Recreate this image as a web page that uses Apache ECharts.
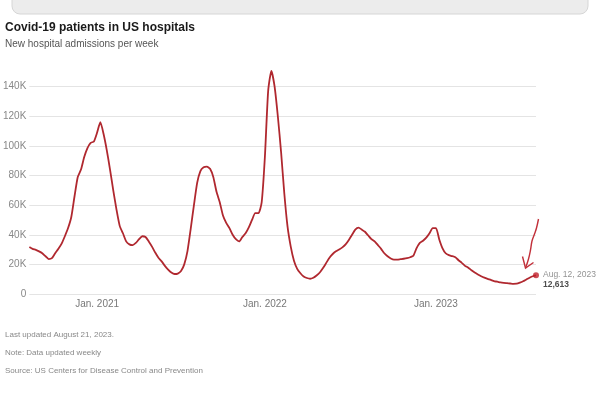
<!DOCTYPE html>
<html>
<head>
<meta charset="utf-8">
<script src="https://cdn.jsdelivr.net/npm/echarts@6/dist/echarts.min.js"></script>
<style>
html,body{margin:0;padding:0;background:#fff;}
#chart{width:598px;height:396px;}
</style>
</head>
<body>
<div id="chart"></div>
<script>
// Weekly series: first week ending Aug. 8, 2020, last week ending Aug. 12, 2023
const firstWeek = '2020-08-08';
const admissions = [
  31700,30500,29800,28800,27500,25500,23600,24200,27500,30500,
  34000,39000,44500,52000,66000,79000,84000,92500,98500,102000,
  103000,109000,116000,108000,97000,84000,70000,57000,46000,41000,
  35500,33500,33000,34500,37000,39000,38500,35500,32000,28000,
  24500,22000,19000,16500,14500,13500,13800,15500,20000,29000,
  44000,60000,75000,83000,85500,86000,84500,79000,69000,62000,
  53000,48000,44500,40000,37000,35500,38500,41000,45000,50000,
  54600,54600,62000,93000,137000,150600,140000,120000,96000,68000,
  45600,32000,22500,17000,14000,11800,10800,10300,11000,12500,
  14500,17500,21000,24500,27000,28800,30000,31500,33500,36500,
  40000,43500,44800,43500,42000,39500,37000,35500,33000,30500,
  27500,25500,24000,23200,23200,23500,23800,24200,24800,25800,
  31000,34500,36000,38000,41000,44500,44500,37000,31000,27500,
  26200,25600,24800,22800,21000,19000,17800,16000,14500,13200,
  12000,11000,10200,9500,8700,8300,7800,7500,7300,7100,
  6900,7000,7700,8600,9800,11000,12000,12613
];
const yTicks = [0,20000,40000,60000,80000,100000,120000,140000];
const titleText = 'Covid-19 patients in US hospitals';
const subtitleText = 'New hospital admissions per week';
const footerLines = ['Last updated August 21, 2023.', 'Note: Data updated weekly', 'Source: US Centers for Disease Control and Prevention'];

const monthsShort = ['Jan.','Feb.','Mar.','Apr.','May','June','July','Aug.','Sep.','Oct.','Nov.','Dec.'];
// week-ending dates (categories)
const weeks = [];
{
  const d0 = new Date(firstWeek + 'T12:00:00Z');
  for (let i = 0; i < admissions.length; i++) {
    const d = new Date(d0.getTime() + i * 7 * 86400000);
    weeks.push(d.toISOString().slice(0,10));
  }
}
function parse(s){ const p = s.split('-').map(Number); return {y:p[0], m:p[1], d:p[2]}; }
const lastIdx = admissions.length - 1;
const lastDate = parse(weeks[lastIdx]);

const FONT = '"Liberation Sans", Arial, sans-serif';
const RED = '#b0282f';
const chart = echarts.init(document.getElementById('chart'), null, {renderer:'canvas'});
const yMax = 160000;
const splitColors = yTicks.map(() => '#e4e4e4').concat(['rgba(0,0,0,0)']);

chart.setOption({
  animation: false,
  backgroundColor: '#ffffff',
  grid: {left: 28, right: 62, top: 57, bottom: 102, containLabel: false},
  xAxis: {
    type: 'category',
    data: weeks,
    boundaryGap: false,
    axisLine: {show: false},
    axisTick: {show: false},
    splitLine: {show: false},
    axisLabel: {
      interval: function (idx, val) { const p = parse(val); return p.m === 1 && p.d <= 7; },
      formatter: function (val) { const p = parse(val); return 'Jan. ' + p.y; },
      color: '#777', fontFamily: FONT, fontSize: 10, margin: 5
    }
  },
  yAxis: {
    type: 'value', min: 0, max: yMax, interval: 20000,
    axisLine: {show: false}, axisTick: {show: false},
    splitLine: {show: true, lineStyle: {color: splitColors, width: 1}},
    axisLabel: {
      color: '#888', fontFamily: FONT, fontSize: 10, margin: 3,
      formatter: function (v) { if (v >= yMax) return ''; return v === 0 ? '0' : (v/1000) + 'K'; }
    }
  },
  series: [
    {
      type: 'line', data: admissions, showSymbol: false, symbol: 'none',
      smooth: 0.2,
      lineStyle: {color: RED, width: 1.8},
      z: 3
    },
    {
      type: 'scatter',
      data: [[lastIdx, admissions[lastIdx]]],
      symbol: 'circle', symbolSize: 6,
      itemStyle: {color: '#c0202a'},
      z: 4,
      label: {
        show: true, position: 'right', distance: 4, offset: [0, 4],
        formatter: function () {
          return '{d|' + monthsShort[lastDate.m-1] + ' ' + lastDate.d + ', ' + lastDate.y + '}\n{v|' + admissions[lastIdx].toLocaleString('en-US') + '}';
        },
        rich: {
          d: {color: '#777', fontFamily: FONT, fontSize: 8.5, lineHeight: 10},
          v: {color: '#222', fontFamily: FONT, fontSize: 8.5, fontWeight: 'bold', lineHeight: 10}
        }
      }
    }
  ],
  graphic: [
    {type: 'rect', shape: {x: 12, y: -12, width: 576, height: 26, r: 8},
     style: {fill: '#ececec', stroke: '#d6d6d6', lineWidth: 1}, silent: true},
    {type: 'text', left: 5, top: 22, style: {text: titleText, fill: '#1a1a1a', font: 'bold 12px ' + FONT}},
    {type: 'text', left: 5, top: 39, style: {text: subtitleText, fill: '#555', font: '10px ' + FONT}},
    {type: 'text', left: 5, top: 331, style: {text: footerLines[0], fill: '#888', font: '8px ' + FONT}},
    {type: 'text', left: 5, top: 349, style: {text: footerLines[1], fill: '#888', font: '8px ' + FONT}},
    {type: 'text', left: 5, top: 367, style: {text: footerLines[2], fill: '#888', font: '8px ' + FONT}},
    // hand-drawn arrow annotation present in the reference image
    {type: 'polyline', silent: true, z: 10,
     shape: {points: [[538.5,219],[536.5,228],[534.5,234],[532,241],[530.5,250],[528.5,259],[525.5,268]], smooth: 0.4},
     style: {stroke: '#c2303a', lineWidth: 1.4, fill: null}},
    {type: 'polyline', silent: true, z: 10,
     shape: {points: [[522.5,256.5],[525.5,268],[533.5,262.5]]},
     style: {stroke: '#c2303a', lineWidth: 1.4, fill: null}}
  ]
});
</script>
</body>
</html>
